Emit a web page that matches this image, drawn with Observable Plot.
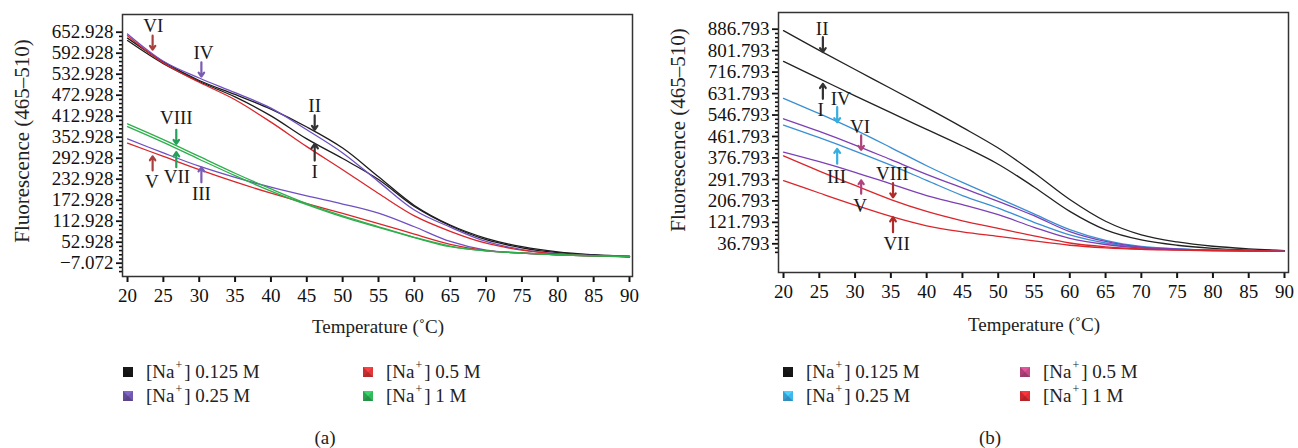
<!DOCTYPE html>
<html><head><meta charset="utf-8">
<script src="https://cdn.jsdelivr.net/npm/d3@7"></script>
<script src="https://cdn.jsdelivr.net/npm/@observablehq/plot@0.6"></script>
<style>
body{margin:0;background:#fff;font-family:"Liberation Serif","Times New Roman",serif;color:#222}
#wrap{position:relative;width:1298px;height:448px;overflow:hidden;background:#fff}
.pl{position:absolute;top:0}
.lab{position:absolute;font-size:19px;white-space:nowrap;transform:translate(-50%,-50%)}
.ylab{position:absolute;font-size:21px;white-space:nowrap;transform:translate(-50%,-50%) rotate(-90deg)}
.leg{position:absolute;font-size:19px;white-space:nowrap;display:flex;align-items:center;transform:translateY(-50%)}
.sw{width:0;height:0;border-style:solid;border-width:5.5px;margin-right:13px}
.sup{font-size:12px;position:relative;top:-7px;margin:0 2px 0 1px}
</style></head><body><div id="wrap"></div>
<script>
// ---------- shared ----------
const temps = [20,25,30,35,40,45,50,55,60,65,70,75,80,85,90];
const xTicks = [20,25,30,35,40,45,50,55,60,65,70,75,80,85,90];

// ---------- panel (a) ----------
const aI    = [629,563,512,468,414,348,292,232,155,100,60,37,23,16,12];
const aII   = [636,568,515,475,433,382,322,240,158,102,64,40,25,17,12];
const aIII  = [348,308,270,238,210,185,162,136,97,55,30,22,17,14,12];
const aIV   = [648,570,522,480,436,374,308,226,145,96,55,32,20,15,11];
const aV    = [336,298,260,225,193,163,135,106,76,47,29,22,17,14,12];
const aVI   = [643,565,510,460,396,326,260,192,128,84,50,30,19,14,11];
const aVII  = [383,338,290,243,199,160,125,95,66,40,28,22,17,14,12];
const aVIII = [391,346,298,250,205,163,128,97,67,42,28,22,17,14,12];
const aYTicks = [-7.072,52.928,112.928,172.928,232.928,292.928,352.928,412.928,472.928,532.928,592.928,652.928];
const aLegend = ["0.125 M","0.25 M","0.5 M","1 M"];

const annA_label = ["VI","IV","II","I","VIII","VII","V","III"];
const annA_tx    = [23.6,30.6,46.1,46.1,26.8,26.9,23.4,30.3];
const annA_ty    = [672,593,443,253,408,239,224,191];
const annA_ax    = [23.5,30.3,46.1,46.1,26.8,26.8,23.5,30.3];
const annA_y1    = [643,567,415,286,374,267,258,224];
const annA_y2    = [603,526,374,334,334,310,298,267];

// ---------- panel (b) ----------
const bI    = [759,691,623,556,490,424,352,262,165,92,52,31,19,12,8];
const bII   = [881,803,727,652,576,498,416,318,212,126,72,44,27,17,10];
const bIII  = [507,457,404,348,288,228,178,122,72,40,22,16,12,10,7];
const bIV   = [613,552,488,418,346,280,218,155,93,50,26,17,12,10,7];
const bV    = [400,362,320,274,228,192,152,102,58,34,20,15,11,9,7];
const bVI   = [532,482,428,370,312,258,205,148,85,46,24,16,12,10,7];
const bVII  = [287,238,190,145,108,84,66,48,31,21,15,12,9,8,7];
const bVIII = [385,325,268,212,165,128,98,68,40,25,17,13,10,9,7];
const bYTicks = [36.793,121.793,206.793,291.793,376.793,461.793,546.793,631.793,716.793,801.793,886.793];
const bLegend = ["0.125 M","0.25 M","0.5 M","1 M"];

const annB_label = ["II","I","IV","VI","III","VIII","V","VII"];
const annB_tx    = [25.4,25.2,28.0,30.7,27.4,35.2,30.7,35.8];
const annB_ty    = [888,567,611,499,300,314,188,37];
const annB_ax    = [25.5,25.5,27.5,30.85,27.5,35.3,30.85,35.3];
const annB_y1    = [855,611,578,466,354,277,235,83];
const annB_y2    = [796,670,518,409,413,221,288,142];

// ---------- styles ----------
const lineColA = {I:"#1c1c1c",II:"#1c1c1c",III:"#6f4fc2",IV:"#6f4fc2",V:"#d8262b",VI:"#d8262b",VII:"#2eae4c",VIII:"#2eae4c"};
const arrColA  = {I:"#333",II:"#333",III:"#7a5cb4",IV:"#7a5cb4",V:"#a8403f",VI:"#a8403f",VII:"#25a05a",VIII:"#25a05a"};
const legColA  = ["#151515","#6a52a3","#d33235","#2eac55"];
const lineColB = {I:"#222",II:"#222",III:"#3a8fd3",IV:"#3a8fd3",V:"#7d3fb5",VI:"#7d3fb5",VII:"#d9262b",VIII:"#d9262b"};
const arrColB  = {I:"#333",II:"#333",III:"#35aee2",IV:"#35aee2",V:"#b0427c",VI:"#b0427c",VII:"#b02a2a",VIII:"#b02a2a"};
const legColB  = ["#151515","#3aaae0","#b8447f","#d52b30"];

function table(series){
  const rows=[];
  for(const [id,vals] of Object.entries(series)) vals.forEach((v,i)=>rows.push({id,t:temps[i],v}));
  return rows;
}
function anns(label,tx,ty,ax,y1,y2){
  return label.map((l,i)=>({label:l,tx:tx[i],ty:ty[i],ax:ax[i],y1:y1[i],y2:y2[i]}));
}
function minorOf(major){
  const step=(major[1]-major[0])/5, out=[];
  for(let k=-2;k<(major.length-1)*5+1;k++){ if(k%5!==0) out.push(major[0]+k*step); }
  return out;
}
const fmt = d => d.toFixed(3).replace("-","\u2212");

function panel(o){
  return Plot.plot({
    width:o.width, height:310,
    marginLeft:o.ml, marginRight:o.mr, marginTop:o.mt, marginBottom:310-o.fb,
    x:{domain:o.xd}, y:{domain:o.yd},
    style:{fontFamily:"Liberation Serif, Times New Roman, serif",fontSize:"19px",color:"#111",background:"transparent",overflow:"visible"},
    marks:[
      Plot.axisY({ticks:minorOf(o.yt),tickSize:3,tickFormat:()=>"",label:null,strokeWidth:1.6}),
      Plot.axisY({ticks:o.yt,tickSize:6,tickPadding:3,tickFormat:fmt,label:null,strokeWidth:1.8}),
      Plot.axisX({ticks:xTicks,tickSize:6,tickPadding:6,label:null,strokeWidth:2}),
      Plot.line(o.rows,{x:"t",y:"v",z:"id",stroke:d=>o.lc[d.id],strokeWidth:1.3,curve:"catmull-rom"}),
      Plot.arrow(o.ann,{x1:"ax",x2:"ax",y1:"y1",y2:"y2",stroke:d=>o.ac[d.label],strokeWidth:2.2,headLength:6,headAngle:70}),
      Plot.text(o.ann,{x:"tx",y:"ty",text:"label",fill:"#1a1a1a",fontSize:19}),
      Plot.frame({stroke:"#333",strokeWidth:1.5})
    ]
  });
}

const wrap=document.getElementById("wrap");
const pa = panel({width:650,ml:122,mr:18,mt:14,fb:276,xd:[19.3,90.42],yd:[-45.1,703.5],yt:aYTicks,
  rows:table({I:aI,II:aII,III:aIII,IV:aIV,V:aV,VI:aVI,VII:aVII,VIII:aVIII}),lc:lineColA,ac:arrColA,
  ann:anns(annA_label,annA_tx,annA_ty,annA_ax,annA_y1,annA_y2)});
pa.classList.add("pl"); pa.style.left="0px"; wrap.appendChild(pa);

const pb = panel({width:648,ml:128,mr:10,mt:12,fb:272,xd:[19.3,90.56],yd:[-76.9,952.9],yt:bYTicks,
  rows:table({I:bI,II:bII,III:bIII,IV:bIV,V:bV,VI:bVI,VII:bVII,VIII:bVIII}),lc:lineColB,ac:arrColB,
  ann:anns(annB_label,annB_tx,annB_ty,annB_ax,annB_y1,annB_y2)});
pb.classList.add("pl"); pb.style.left="650px"; wrap.appendChild(pb);

function addDiv(cls,html,x,y){const d=document.createElement("div");d.className=cls;d.innerHTML=html;d.style.left=x+"px";d.style.top=y+"px";wrap.appendChild(d);return d;}
addDiv("ylab","Fluorescence (465\u2013510)",22,141);
addDiv("ylab","Fluorescence (465\u2013510)",678,130);
addDiv("lab","Temperature (\u02DAC)",378,327);
addDiv("lab","Temperature (\u02DAC)",1034,325);
addDiv("lab","(a)",325,438);
addDiv("lab","(b)",990,438);

function swatch(c){
  const base=d3.color(c);
  const t=base.brighter(0.6).formatHex(), b=base.darker(0.5).formatHex(), l=base.darker(0.2).formatHex(), r=base.brighter(0.2).formatHex();
  return `<span class="sw" style="border-color:${t} ${r} ${b} ${l}"></span>`;
}
function legend(labels,cols,x1,x2){
  const pos=[[x1,372],[x1,396],[x2,372],[x2,396]];
  labels.forEach((lab,i)=>{
    addDiv("leg",`${swatch(cols[i])}[Na<span class="sup">+</span>] ${lab}`,pos[i][0],pos[i][1]);
  });
}
legend(aLegend,legColA,123,363);
legend(bLegend,legColB,783,1020);
</script></body></html>
